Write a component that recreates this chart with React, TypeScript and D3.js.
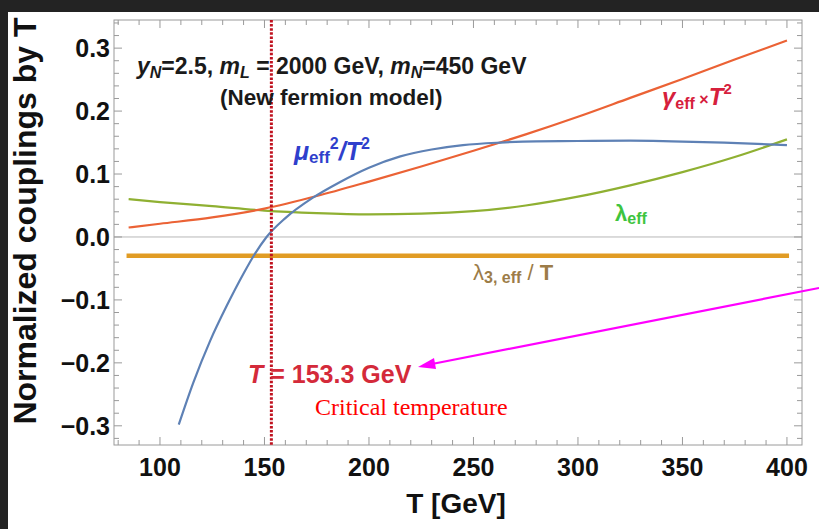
import React from "react";
import * as d3 from "d3";

// temperatures (GeV) and couplings
const tempMain = [85, 100, 125, 150, 175, 200, 225, 250, 275, 300, 325, 350, 375, 400];
const gammaT2 = [0.015, 0.021, 0.031, 0.045, 0.065, 0.088, 0.112, 0.137, 0.163, 0.191, 0.221, 0.251, 0.282, 0.312];
const lambdaEff = [0.06, 0.0555, 0.049, 0.042, 0.038, 0.036, 0.037, 0.041, 0.05, 0.064, 0.082, 0.103, 0.127, 0.155];
const tempMu = [109, 116, 124, 132, 140, 145, 151, 160, 173, 186, 200, 215, 230, 245, 263, 280, 300, 325, 345, 370, 400];
const muT2 = [-0.298, -0.231, -0.165, -0.109, -0.058, -0.029, 0, 0.03, 0.062, 0.087, 0.11, 0.128, 0.139, 0.146, 0.15, 0.152, 0.1525, 0.153, 0.152, 0.15, 0.146];
const tempLambda3 = [84, 401];
const lambda3 = [-0.03, -0.03];
const criticalT = 153.3;

const xTickValues = [100, 150, 200, 250, 300, 350, 400];
const yTickValues = [-0.3, -0.2, -0.1, 0, 0.1, 0.2, 0.3];

const W = 819;
const H = 529;
const left = 114, right = 802, top = 20, bottom = 445;

export default function App() {
  const x = d3.scaleLinear().domain([78, 407.2]).range([left, right]);
  const y = d3.scaleLinear().domain([-0.3305, 0.3447]).range([bottom, top]);

  const line = d3
    .line<[number, number]>()
    .x((d) => x(d[0]))
    .y((d) => y(d[1]))
    .curve(d3.curveMonotoneX);

  const zip = (a: number[], b: number[]) => a.map((v, i) => [v, b[i]] as [number, number]);

  const xMinor = d3.range(80, 401, 10);
  const yMinor = d3.range(-32, 35, 2).map((v) => v / 100);

  const fmtY = (v: number) => (v < 0 ? "\u2212" : "") + Math.abs(v).toFixed(1);
  const xc = x(criticalT);

  const tickColor = "#9a9a9a";

  return (
    <svg width={W} height={H} style={{ position: "absolute", left: 0, top: 0 }} fontFamily="'Liberation Sans', Arial, sans-serif">
      <rect x={0} y={0} width={W} height={H} fill="#fff" />
      <rect x={0} y={0} width={W} height={12} fill="#232323" />
      <rect x={0} y={0} width={8} height={H} fill="#232323" />

      {/* zero line */}
      <line x1={left} x2={right} y1={y(0)} y2={y(0)} stroke="#b8b8b8" strokeWidth={1} />

      {/* frame ticks */}
      <g stroke={tickColor} strokeWidth={1}>
        {xMinor.map((t) => {
          const len = t % 50 === 0 ? 8 : 5;
          return (
            <g key={"xt" + t}>
              <line x1={x(t)} x2={x(t)} y1={bottom} y2={bottom - len} />
              <line x1={x(t)} x2={x(t)} y1={top} y2={top + len} />
            </g>
          );
        })}
        {yMinor.map((v) => {
          const len = Math.abs(Math.round(v * 100)) % 10 === 0 ? 8 : 5;
          return (
            <g key={"yt" + v}>
              <line x1={left} x2={left + len} y1={y(v)} y2={y(v)} />
              <line x1={right} x2={right - len} y1={y(v)} y2={y(v)} />
            </g>
          );
        })}
      </g>
      <rect x={left} y={top} width={right - left} height={bottom - top} fill="none" stroke={tickColor} strokeWidth={1} />

      {/* curves */}
      <path d={line(zip(tempLambda3, lambda3)) || ""} fill="none" stroke="#e19c24" strokeWidth={4.5} />
      <path d={line(zip(tempMain, lambdaEff)) || ""} fill="none" stroke="#8fb032" strokeWidth={2.2} />
      <path d={line(zip(tempMain, gammaT2)) || ""} fill="none" stroke="#eb6235" strokeWidth={2.2} />
      <path d={line(zip(tempMu, muT2)) || ""} fill="none" stroke="#5e81b5" strokeWidth={2.2} />

      {/* critical temperature line */}
      <line x1={xc} x2={xc} y1={top} y2={bottom} stroke="#c0121f" strokeWidth={3} strokeDasharray="2.5,1.6" />

      {/* tick labels */}
      <g fontWeight="bold" fontSize={25} fill="#111">
        {xTickValues.map((t) => (
          <text key={"xl" + t} x={x(t)} y={476} textAnchor="middle">
            {t}
          </text>
        ))}
        {yTickValues.map((v) => (
          <text key={"yl" + v} x={110} y={y(v) + 9} textAnchor="end">
            {fmtY(v)}
          </text>
        ))}
      </g>

      {/* axis titles */}
      <text x={456} y={513} textAnchor="middle" fontWeight="bold" fontSize={28} fill="#111">
        T [GeV]
      </text>
      <text transform="translate(36,221) rotate(-90)" textAnchor="middle" fontWeight="bold" fontSize={32} fill="#111">
        Normalized couplings by T
      </text>

      {/* annotation */}
      <text x={137} y={74} fontWeight="bold" fontSize={23} fill="#1a1a1a">
        <tspan fontStyle="italic">y</tspan>
        <tspan fontSize={16} dy={4} fontStyle="italic">N</tspan>
        <tspan dy={-4}>=2.5, </tspan>
        <tspan fontStyle="italic">m</tspan>
        <tspan fontSize={16} dy={4} fontStyle="italic">L</tspan>
        <tspan dy={-4}> = 2000 GeV, </tspan>
        <tspan fontStyle="italic">m</tspan>
        <tspan fontSize={16} dy={4} fontStyle="italic">N</tspan>
        <tspan dy={-4}>=450 GeV</tspan>
      </text>
      <text x={220} y={105} fontWeight="bold" fontSize={22.5} fill="#1a1a1a">
        (New fermion model)
      </text>

      {/* series labels */}
      <text x={294} y={160} fontWeight="bold" fontSize={25} fill="#2f3fcc">
        <tspan fontStyle="italic">μ</tspan>
        <tspan fontSize={17} dy={3}>eff</tspan>
        <tspan fontSize={16} dy={-14}>2</tspan>
        <tspan dy={11} fontStyle="italic">/T</tspan>
        <tspan fontSize={16} dy={-11}>2</tspan>
      </text>
      <text x={662} y={105} fontWeight="bold" fontSize={24} fill="#d6203c">
        <tspan fontStyle="italic">γ</tspan>
        <tspan fontSize={16} dy={4}>eff</tspan>
        <tspan fontSize={16} dy={-4}> ×</tspan>
        <tspan fontStyle="italic">T</tspan>
        <tspan fontSize={15} dy={-11}>2</tspan>
      </text>
      <text x={615} y={221} fontWeight="bold" fontSize={22} fill="#3ec43e">
        <tspan>λ</tspan>
        <tspan fontSize={16} dy={3}>eff</tspan>
      </text>
      <text x={473} y={280} fontSize={22} fill="#9c7c48">
        <tspan>λ</tspan>
        <tspan fontSize={16} dy={3} fontWeight="bold">3, eff</tspan>
        <tspan dy={-3}> / </tspan>
        <tspan fontWeight="bold">T</tspan>
      </text>

      <text x={248} y={383} fontWeight="bold" fontSize={25} fill="#d42a3a">
        <tspan fontStyle="italic">T</tspan>
        <tspan> = 153.3 GeV</tspan>
      </text>
      <text x={315} y={415} fontFamily="'Liberation Serif', 'Times New Roman', serif" fontSize={24} fill="#ff0000">
        Critical temperature
      </text>

      {/* arrow */}
      <line x1={819} y1={288} x2={432} y2={364} stroke="#ff00ff" strokeWidth={2.2} />
      <polygon points="418,367 434,358 436,369" fill="#ff00ff" />
    </svg>
  );
}
